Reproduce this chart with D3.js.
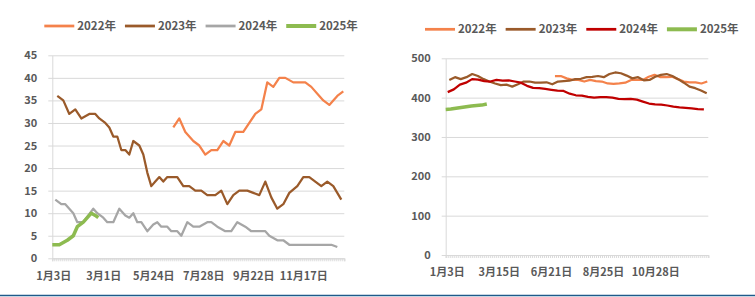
<!DOCTYPE html>
<html>
<head>
<meta charset="utf-8">
<script src="https://cdn.jsdelivr.net/npm/d3@7/dist/d3.min.js"></script>
<style>
  body { margin: 0; background: #fff; }
  svg { display: block; font-family: "Microsoft YaHei", "Noto Sans CJK SC", sans-serif; }
</style>
</head>
<body>
<svg id="chart" width="755" height="297"></svg>
<script>
// ------------------------------------------------------------------
//  数据：两张年度对比折线图（横轴为日期序号）
// ------------------------------------------------------------------
var yearNames = ["2022年", "2023年", "2024年", "2025年"];

// 左图
var leftSlots = 146;
var leftTickIdx = [0, 25, 50, 75, 100, 125];
var leftTickLabels = ["1月3日", "3月1日", "5月24日", "7月28日", "9月22日", "11月17日"];
var leftYTicks = [0, 5, 10, 15, 20, 25, 30, 35, 40, 45];

var left2022X = [60, 63, 66, 70, 73, 76, 79, 82, 85, 88, 91, 95, 98, 101, 104, 107, 110, 113, 116, 120, 123, 126, 129, 133, 135, 138, 142, 145];
var left2022 = [29, 31, 28, 26, 25, 23, 24, 24, 26, 25, 28, 28, 30, 32, 33, 39, 38, 40, 40, 39, 39, 39, 38, 36, 35, 34, 36, 37];

var left2023X = [2, 5, 8, 11, 14, 18, 21, 23, 26, 28, 30, 32, 34, 36, 38, 40, 43, 45, 47, 49, 51, 53, 55, 57, 60, 62, 65, 68, 71, 74, 77, 81, 84, 87, 90, 93, 97, 100, 103, 106, 109, 112, 115, 118, 122, 125, 128, 131, 134, 137, 140, 144];
var left2023 = [36, 35, 32, 33, 31, 32, 32, 31, 30, 29, 27, 27, 24, 24, 23, 26, 25, 23, 19, 16, 17, 18, 17, 18, 18, 18, 16, 16, 15, 15, 14, 14, 15, 12, 14, 15, 15, 14.5, 14, 17, 13.5, 11, 12, 14.5, 16, 18, 18, 17, 16, 17, 16, 13];

var left2024X = [1, 4, 6, 10, 12, 15, 20, 22, 25, 27, 30, 33, 36, 38, 40, 42, 44, 47, 50, 52, 54, 57, 59, 62, 64, 67, 70, 73, 77, 79, 82, 86, 89, 92, 96, 99, 102, 106, 108, 112, 115, 118, 122, 125, 129, 132, 136, 139, 142];
var left2024 = [13, 12, 12, 10, 8, 8, 11, 10, 9, 8, 8, 11, 9.5, 9, 10, 8, 8, 6, 7.5, 8, 7, 7, 6, 6, 5, 8, 7, 7, 8, 8, 7, 6, 6, 8, 7, 6, 6, 6, 5, 4, 4, 3, 3, 3, 3, 3, 3, 3, 2.5];

var left2025X = [-0.5, 3, 7, 10, 12, 15, 17, 19, 21, 22.5];
var left2025 = [3, 3, 4, 5, 7, 8, 9, 10, 9.5, 9];

// 右图
var rightSlots = 131;
var rightTickIdx = [0, 26, 52, 78, 104];
var rightTickLabels = ["1月3日", "3月15日", "6月21日", "8月25日", "10月28日"];
var rightYTicks = [0, 100, 200, 300, 400, 500];

var right2022Span = [54, 130];
var right2022 = [455, 455, 449, 445, 445, 441, 445, 442, 441, 436, 435, 436, 438, 445, 445, 445, 453, 458, 452, 452, 453, 447, 441, 439, 439, 436, 441];

var right2023Span = [1.3, 129.7];
var right2023 = [445, 452, 447, 452, 460, 455, 447, 441, 436, 432, 433, 428, 434, 441, 441, 438, 438, 439, 434, 441, 442, 443, 447, 448, 452, 453, 455, 452, 460, 464, 462, 456, 449, 452, 444, 445, 453, 458, 460, 455, 447, 438, 428, 424, 418, 411];

var right2024Span = [0.5, 128.3];
var right2024 = [414, 421, 433, 438, 447, 446, 442, 441, 445, 443, 444, 441, 438, 430, 425, 424, 422, 420, 418, 417, 410, 406, 405, 402, 400, 401, 401, 400, 397, 396, 397, 395, 390, 385, 383, 382, 380, 377, 375, 374, 373, 371, 370];

var right2025Span = [-0.5, 20];
var right2025 = [370, 371, 373, 375, 377, 379, 380, 381, 384];

// 颜色
var cOrange = "#F4824B", cBrown = "#9A5A2A", cGray = "#A6A6A6", cRed = "#C00000", cGreen = "#8DBB50";
var gridColor = "#D9D9D9", textColor = "#595959";

var svg = d3.select("#chart");

// 等间距分布的日期序号
function spread(span, n) {
  return d3.range(n).map(function (i) { return span[0] + (span[1] - span[0]) * i / (n - 1); });
}

function drawPanel(cfg) {
  var g = svg.append("g");
  var x = d3.scaleLinear().domain([-0.5, cfg.slots - 0.5]).range([cfg.x0, cfg.x1]);
  var y = d3.scaleLinear().domain([0, cfg.yMax]).range([cfg.y0, cfg.y1]);

  // 纵轴 + 网格线
  var yAxis = g.append("g")
    .attr("transform", "translate(" + cfg.x0 + ",0)")
    .call(d3.axisLeft(y).tickValues(cfg.yTicks).tickSizeInner(-(cfg.x1 - cfg.x0)).tickSizeOuter(0).tickPadding(15));
  yAxis.select(".domain").attr("stroke", gridColor);
  yAxis.selectAll(".tick line").attr("stroke", gridColor).attr("x1", -4);
  yAxis.selectAll(".tick text")
    .attr("fill", textColor).attr("font-size", 11).attr("font-weight", "bold")
    .attr("font-family", "\"Microsoft YaHei\", \"Noto Sans CJK SC\", sans-serif");

  // 横轴细刻度
  var xMinor = g.append("g")
    .attr("transform", "translate(0," + cfg.y0 + ")")
    .call(d3.axisBottom(x).tickValues(d3.range(cfg.slots + 1).map(function (i) { return i - 0.5; }))
      .tickSize(3).tickFormat(""));
  xMinor.select(".domain").attr("stroke", gridColor);
  xMinor.selectAll(".tick line").attr("stroke", gridColor);

  // 横轴标签
  var xLab = g.append("g")
    .attr("transform", "translate(0," + cfg.y0 + ")")
    .call(d3.axisBottom(x).tickValues(cfg.tickIdx).tickSize(0).tickPadding(cfg.labelPad)
      .tickFormat(function (d, i) { return cfg.tickLabels[i]; }));
  xLab.select(".domain").remove();
  xLab.selectAll(".tick text")
    .attr("fill", textColor).attr("font-size", 11).attr("font-weight", "bold")
    .attr("font-family", "\"Microsoft YaHei\", \"Noto Sans CJK SC\", sans-serif");

  // 折线
  var line = d3.line().x(function (d) { return x(d[0]); }).y(function (d) { return y(d[1]); });
  cfg.series.forEach(function (s) {
    var pts = s.values.map(function (v, i) { return [s.xs[i], v]; });
    g.append("path").datum(pts)
      .attr("d", line)
      .attr("fill", "none")
      .attr("stroke", s.color)
      .attr("stroke-width", s.width)
      .attr("stroke-linejoin", "round");
  });

  // 图例
  var lg = g.append("g").attr("transform", "translate(" + cfg.legendX + "," + cfg.legendY + ")");
  var cx = 0;
  cfg.series.slice().sort(function (a, b) { return a.order - b.order; }).forEach(function (s) {
    lg.append("line").attr("x1", cx).attr("x2", cx + 30).attr("y1", 0).attr("y2", 0)
      .attr("stroke", s.color).attr("stroke-width", s.width + 0.5);
    var t = lg.append("text").attr("x", cx + 33).attr("y", 0).attr("dy", "0.36em")
      .attr("fill", textColor).attr("font-size", 11.5).attr("font-weight", "bold")
      .text(s.name);
    cx += 33 + t.node().getComputedTextLength() + 9;
  });
}

drawPanel({
  slots: leftSlots, x0: 52.3, x1: 344.3, y0: 258.3, y1: 55.3, yMax: 45,
  yTicks: leftYTicks, tickIdx: leftTickIdx, tickLabels: leftTickLabels, labelPad: 14,
  legendX: 44.3, legendY: 26,
  series: [
    { name: yearNames[2], order: 2, xs: left2024X, values: left2024, color: cGray, width: 2.25 },
    { name: yearNames[1], order: 1, xs: left2023X, values: left2023, color: cBrown, width: 2.25 },
    { name: yearNames[0], order: 0, xs: left2022X, values: left2022, color: cOrange, width: 2.25 },
    { name: yearNames[3], order: 3, xs: left2025X, values: left2025, color: cGreen, width: 3.5 }
  ]
});

drawPanel({
  slots: rightSlots, x0: 445.7, x1: 708.3, y0: 255, y1: 58.3, yMax: 500,
  yTicks: rightYTicks, tickIdx: rightTickIdx, tickLabels: rightTickLabels, labelPad: 13,
  legendX: 425, legendY: 29.3,
  series: [
    { name: yearNames[0], order: 0, xs: spread(right2022Span, right2022.length), values: right2022, color: cOrange, width: 2.25 },
    { name: yearNames[1], order: 1, xs: spread(right2023Span, right2023.length), values: right2023, color: cBrown, width: 2.25 },
    { name: yearNames[2], order: 2, xs: spread(right2024Span, right2024.length), values: right2024, color: cRed, width: 2.25 },
    { name: yearNames[3], order: 3, xs: spread(right2025Span, right2025.length), values: right2025, color: cGreen, width: 3.5 }
  ]
});

// 底部分隔线
svg.append("line").attr("x1", 0).attr("x2", 755).attr("y1", 295.5).attr("y2", 295.5)
  .attr("stroke", "#1F5A8A").attr("stroke-width", 1.5);
</script>
</body>
</html>
